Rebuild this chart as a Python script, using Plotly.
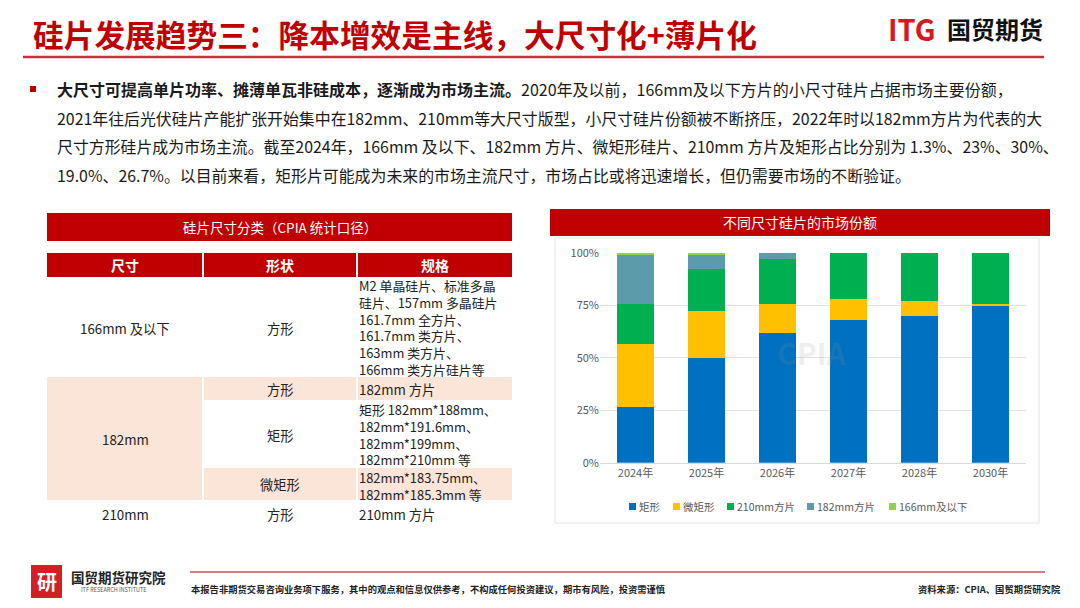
import plotly.graph_objects as go

W, H = 1080, 608
OFF = 8  # the page puts the figure 8px in from the top-left corner
FONT = 'Noto Sans CJK SC'
RED = '#C00000'

# ---- chart data (percent of market share) ----
years = ['2024年', '2025年', '2026年', '2027年', '2028年', '2030年']
series_names = ['矩形', '微矩形', '210mm方片', '182mm方片', '166mm及以下']
rect_share = [26.7, 50.0, 62.0, 67.8, 70.0, 75.0]
micro_rect_share = [30.0, 22.2, 13.8, 10.1, 7.0, 0.6]
sq210_share = [19.0, 20.0, 21.2, 22.1, 23.0, 24.4]
sq182_share = [23.0, 7.3, 3.0, 0.0, 0.0, 0.0]
small166_share = [1.3, 0.5, 0.0, 0.0, 0.0, 0.0]
series_colors = ['#0070C0', '#FFC000', '#00B050', '#5B9BAA', '#92D050']

# ---- texts ----
title = '硅片发展趋势三：降本增效是主线，大尺寸化+薄片化'
para_bold = '大尺寸可提高单片功率、摊薄单瓦非硅成本，逐渐成为市场主流。'
para_lines = [
    '2020年及以前，166mm及以下方片的小尺寸硅片占据市场主要份额，',
    '2021年往后光伏硅片产能扩张开始集中在182mm、210mm等大尺寸版型，小尺寸硅片份额被不断挤压，2022年时以182mm方片为代表的大',
    '尺寸方形硅片成为市场主流。截至2024年，166mm 及以下、182mm 方片、微矩形硅片、210mm 方片及矩形占比分别为 1.3%、23%、30%、',
    '19.0%、26.7%。以目前来看，矩形片可能成为未来的市场主流尺寸，市场占比或将迅速增长，但仍需要市场的不断验证。',
]
table_title = '硅片尺寸分类（CPIA 统计口径）'
table_header = ['尺寸', '形状', '规格']
spec_166 = ['M2 单晶硅片、标准多晶', '硅片、157mm 多晶硅片', '161.7mm 全方片、',
            '161.7mm 类方片、', '163mm 类方片、', '166mm 类方片硅片等']
spec_182_rect = ['矩形 182mm*188mm、', '182mm*191.6mm、', '182mm*199mm、', '182mm*210mm 等']
spec_182_micro = ['182mm*183.75mm、', '182mm*185.3mm 等']
chart_title = '不同尺寸硅片的市场份额'
disclaimer = '本报告非期货交易咨询业务项下服务，其中的观点和信息仅供参考，不构成任何投资建议，期市有风险，投资需谨慎'
source = '资料来源：CPIA、国贸期货研究院'

# legend entry left edges (px)
legend_x = [629, 673, 727, 807, 889]


def px(x):
    return (x - OFF) / W


def py(y):
    return 1 - (y - OFF) / H


shapes = []
annotations = []


def rect(x0, y0, x1, y1, fill, line=None, layer='above'):
    shapes.append(dict(type='rect', xref='paper', yref='paper',
                       x0=px(x0), x1=px(x1), y0=py(y1), y1=py(y0),
                       fillcolor=fill, layer=layer,
                       line=dict(width=1 if line else 0, color=line or fill)))


def text(x, y, s, size=13, color='#222222', anchor='left', bold=False):
    annotations.append(dict(xref='paper', yref='paper', x=px(x), y=py(y),
                            text=f'<b>{s}</b>' if bold else s, showarrow=False,
                            xanchor=anchor, yanchor='middle', borderpad=0, align=anchor,
                            font=dict(family=FONT, size=size, color=color)))


# header
text(32, 33, title, size=30.7, color=RED, bold=True)
text(887, 28, 'ITG', size=29, color='#D7191F', bold=True)
text(946, 28, '国贸期货', size=24, color='#111111', bold=True)
shapes.append(dict(type='line', xref='paper', yref='paper', x0=px(23), x1=px(1044),
                   y0=py(57), y1=py(57), line=dict(color='#C9303E', width=2.5)))

# bullet paragraph
rect(30, 86, 36, 92, RED)
text(56, 89, f'<b>{para_bold}</b>' + para_lines[0], size=16, color='#1a1a1a')
for i, line in enumerate(para_lines[1:]):
    text(56, 118 + 28.7 * i, line, size=15.9, color='#1a1a1a')

# table
PINK = '#FBE4D8'
TS = 12.9
cols = [(47, 202), (204, 356), (358, 512)]
c1, c2, c3 = 125, 280, 358
rect(47, 213, 512, 241, RED)
text(280, 227, table_title, size=13.5, color='white', anchor='center')
for (a, b), h in zip(cols, table_header):
    rect(a, 253, b, 277, RED)
    text((a + b) / 2, 265, h, size=14, color='white', anchor='center', bold=True)
rect(47, 377, 202, 500, PINK)
rect(204, 377, 356, 400, PINK)
rect(358, 377, 512, 400, PINK)
rect(204, 468, 356, 500, PINK)
rect(358, 468, 512, 500, PINK)

text(c1, 328, '166mm 及以下', size=13.3, anchor='center')
text(c2, 328, '方形', size=13.3, anchor='center')
text(c3, 327.5, '<br>'.join(spec_166), size=TS)
text(c2, 389, '方形', size=13.3, anchor='center')
text(c3, 389, '182mm 方片', size=13.3)
text(c1, 439, '182mm', size=13.3, anchor='center')
text(c2, 435, '矩形', size=13.3, anchor='center')
text(c3, 434.5, '<br>'.join(spec_182_rect), size=TS)
text(c2, 484, '微矩形', size=13.3, anchor='center')
text(c3, 485.5, '<br>'.join(spec_182_micro), size=TS)
text(c1, 514, '210mm', size=13.3, anchor='center')
text(c2, 514, '方形', size=13.3, anchor='center')
text(c3, 514, '210mm 方片', size=13.3)

# chart frame and title bar
rect(550, 209, 1050, 236, RED)
text(800, 222, chart_title, size=14, color='white', anchor='center')
rect(555, 238, 1039, 523, 'rgba(0,0,0,0)', line='#E3E3E3', layer='below')
text(812, 352, '<b>CPIA</b>', size=30, color='rgba(150,150,150,0.16)', anchor='center')

# compact legend under the chart
for lx, name, color in zip(legend_x, series_names, series_colors):
    rect(lx, 503, lx + 7, 510, color)
    text(lx + 9, 506, name, size=10.5, color='#595959')

# footer
rect(31, 565, 62, 598, '#D22027')
text(46.5, 581, '研', size=20, color='white', anchor='center', bold=True)
text(70, 577, '国贸期货研究院', size=13.5, color='#222222', bold=True)
text(80, 590, 'ITF RESEARCH INSTITUTE', size=5.5, color='#555555')
shapes.append(dict(type='line', xref='paper', yref='paper', x0=px(190), x1=px(1045),
                   y0=py(572), y1=py(572), line=dict(color='#C9505A', width=1.5)))
text(190, 589, disclaimer, size=9.3, color='#222222', bold=True)
text(1062, 589, source, size=9.3, color='#222222', anchor='right', bold=True)

fig = go.Figure()
for name, vals, color in zip(series_names,
                             [rect_share, micro_rect_share, sq210_share, sq182_share, small166_share],
                             series_colors):
    fig.add_trace(go.Bar(x=years, y=vals, name=name, marker=dict(color=color, line=dict(width=0))))

fig.update_layout(
    width=W, height=H,
    margin=dict(l=0, r=0, t=0, b=0, pad=0, autoexpand=False),
    paper_bgcolor='white',
    plot_bgcolor='rgba(0,0,0,0)',
    barmode='stack',
    bargap=0.49,
    showlegend=False,
    font=dict(family=FONT, color='#595959', size=11),
    xaxis=dict(domain=[px(600), px(1026)], showgrid=False, showline=True, automargin=False,
               linecolor='#D9D9D9', ticks='', tickfont=dict(size=11, color='#595959')),
    yaxis=dict(domain=[py(462.7), py(252.7)], range=[0, 100], dtick=25, automargin=False,
               ticksuffix='%', showgrid=True, gridcolor='#E3E3E3', zeroline=False,
               tickfont=dict(size=11, color='#595959')),
    shapes=shapes,
    annotations=annotations,
)

fig.write_html('out.html')
